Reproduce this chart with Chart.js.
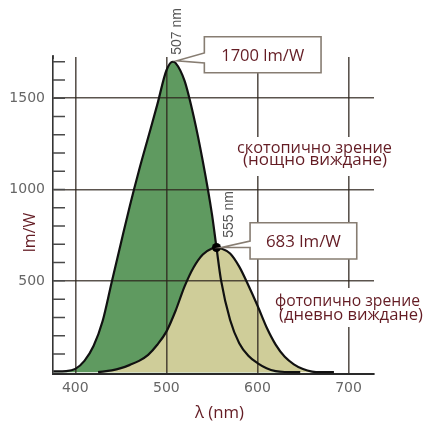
<!DOCTYPE html>
<html><head><meta charset="utf-8">
<script src="https://cdn.jsdelivr.net/npm/chart.js@4/dist/chart.umd.min.js"></script>
<style>html,body{margin:0;padding:0;background:#fff;}#wrap{width:425px;height:421px;position:relative;}</style>
</head><body><div id="wrap"><canvas id="c" width="425" height="421"></canvas></div>
<script>
// ---- data ----
const scotopicNm  = [376,390,400,410,420,430,440,450,460,470,480,490,500,507,510,520,530,540,550,555,560,570,580,590,600,610,620,630,647];
const scotopicVal = [4,6,18,62,143,280,494,705,913,1106,1285,1465,1652,1700,1694,1595,1400,1155,867,683,504,286,159,90,50,22,6,1,0];
const photopicNm  = [425,440,450,460,470,480,490,500,510,520,530,540,550,555,560,570,580,590,600,610,620,630,640,650,660,670,684];
const photopicVal = [0,10,22,40,62,95,150,222,335,470,575,645,677,683,678,650,578,476,365,246,151,84,43,17,3,0,0];
const scotPeak = [507, 1700];
const photPeak = [555, 683];
const xTicks = [400, 500, 600, 700];
const yTicks = [500, 1000, 1500];
const yMinor = [100,200,300,400,500,600,700,800,900,1000,1100,1200,1300,1400,1500,1600,1700];
const scotPeakLabel = '507 nm';
const photPeakLabel = '555 nm';
const scotBoxLabel = '1700 lm/W';
const photBoxLabel = '683 lm/W';
const scotText = ['скотопично зрение', '(нощно виждане)'];
const photText = ['фотопично зрение', '(дневно виждане)'];
const yTitle = 'lm/W';
const xTitle = 'λ (nm)';

const toXY = (xs, ys) => xs.map((x, i) => ({x, y: ys[i]}));
const MAROON = '#641c24';
const LBL_FONT = '"Open Sans", "Noto Sans", sans-serif';

function fitText(ctx, str, cx, by, targetW, font, color) {
  ctx.save();
  ctx.font = font; ctx.fillStyle = color;
  const w = ctx.measureText(str).width;
  ctx.translate(cx, by);
  ctx.scale(targetW / w, 1);
  ctx.textAlign = 'center'; ctx.textBaseline = 'alphabetic';
  ctx.fillText(str, 0, 0);
  ctx.restore();
}

const annot = {
  id: 'annot',
  afterDraw(chart) {
    const ctx = chart.ctx, xs = chart.scales.x, ys = chart.scales.y, ca = chart.chartArea;
    // minor ticks on the y axis (inward)
    ctx.save();
    ctx.strokeStyle = '#4a4a4a'; ctx.lineWidth = 1.5;
    ctx.beginPath();
    yMinor.forEach(v => {
      const y = ys.getPixelForValue(v);
      ctx.moveTo(ca.left, y); ctx.lineTo(ca.left + 12, y);
    });
    ctx.stroke();
    ctx.strokeStyle = '#333'; ctx.lineWidth = 1.6;
    ctx.beginPath(); ctx.moveTo(ca.left, ca.top - 2); ctx.lineTo(ca.left, ca.top + 2); ctx.stroke();
    ctx.restore();

    // white backgrounds behind region texts
    ctx.save();
    ctx.fillStyle = '#fff';
    ctx.fillRect(234, 137, 162, 39);
    ctx.fillRect(272, 288, 153, 39);
    ctx.restore();

    const f16 = '16px ' + LBL_FONT;
    fitText(ctx, scotText[0], 314.5, 152.5, 155, f16, MAROON);
    fitText(ctx, scotText[1], 315, 165, 144, f16, MAROON);
    fitText(ctx, photText[0], 347.5, 306, 145, f16, MAROON);
    fitText(ctx, photText[1], 351, 319.5, 144, f16, MAROON);

    function callout(tx, ty, left, top, right, bottom, j1, j2, label, tw) {
      ctx.save();
      ctx.beginPath();
      ctx.moveTo(left, top); ctx.lineTo(right, top); ctx.lineTo(right, bottom);
      ctx.lineTo(left, bottom); ctx.lineTo(left, j2); ctx.lineTo(tx, ty); ctx.lineTo(left, j1);
      ctx.closePath();
      ctx.fillStyle = '#fff'; ctx.fill();
      ctx.strokeStyle = '#877d72'; ctx.lineWidth = 1.6; ctx.stroke();
      ctx.restore();
      fitText(ctx, label, (left + right) / 2, (top + bottom) / 2 + 6, tw, f16, MAROON);
    }
    const sx = xs.getPixelForValue(scotPeak[0]), sy = ys.getPixelForValue(scotPeak[1]);
    const px = xs.getPixelForValue(photPeak[0]), py = ys.getPixelForValue(photPeak[1]);
    callout(sx + 4, sy - 1, sx + 31.6, 36.7, sx + 148.3, 72.7, 53, 63, scotBoxLabel, 83);
    callout(px + 5, py, px + 33.6, 222.7, px + 140.3, 259, 241, 247.5, photBoxLabel, 75);

    function vlabel(str, x, y) {
      ctx.save();
      ctx.font = '14px "Liberation Sans", Arial, sans-serif';
      ctx.fillStyle = '#555';
      ctx.textAlign = 'center'; ctx.textBaseline = 'alphabetic';
      ctx.translate(x, y); ctx.rotate(-Math.PI / 2);
      ctx.fillText(str, 0, 0);
      ctx.restore();
    }
    vlabel(scotPeakLabel, sx + 8.6, 31.5);
    vlabel(photPeakLabel, px + 16.6, 214.5);

    ctx.save();
    ctx.font = f16; ctx.fillStyle = MAROON;
    ctx.translate(35, 232.5); ctx.rotate(-Math.PI / 2);
    ctx.textAlign = 'center'; ctx.textBaseline = 'alphabetic';
    ctx.fillText(yTitle, 0, 0);
    ctx.restore();
    fitText(ctx, xTitle, 219.5, 418, 49, f16, MAROON);
  }
};

new Chart(document.getElementById('c'), {
  type: 'line',
  data: {
    datasets: [
      { label: 'dot', data: [{x: photPeak[0], y: photPeak[1]}], showLine: false,
        pointRadius: 4.5, pointBackgroundColor: '#000', pointBorderWidth: 0 },
      { label: 'photopic', data: toXY(photopicNm, photopicVal), borderColor: '#111', borderWidth: 2.2,
        backgroundColor: '#cfcd99', fill: 'origin', pointRadius: 0, cubicInterpolationMode: 'monotone' },
      { label: 'scotopic', data: toXY(scotopicNm, scotopicVal), borderColor: '#111', borderWidth: 2.2,
        backgroundColor: '#5f9a60', fill: 'origin', pointRadius: 0, cubicInterpolationMode: 'monotone' }
    ]
  },
  options: {
    responsive: false, animation: false, devicePixelRatio: 1,
    layout: { padding: { top: 57, right: 51, left: 0, bottom: 0 } },
    plugins: { legend: { display: false }, tooltip: { enabled: false }, filler: { drawTime: 'beforeDraw' } },
    scales: {
      x: {
        type: 'linear', min: 375.5, max: 728,
        afterBuildTicks: s => { s.ticks = xTicks.map(v => ({value: v})); },
        afterFit: s => { s.height = 47; },
        grid: { color: 'rgba(45,36,28,0.78)', lineWidth: 1.6, drawTicks: false },
        border: { display: true, color: '#2a2a2a', width: 2 },
        ticks: { color: '#666', font: { family: '"DejaVu Sans"', size: 14 }, padding: 6, maxRotation: 0,
                 callback: v => String(v) }
      },
      y: {
        type: 'linear', min: -10, max: 1726,
        afterBuildTicks: s => { s.ticks = yTicks.map(v => ({value: v})); },
        afterFit: s => { s.width = 53; },
        grid: { color: 'rgba(45,36,28,0.78)', lineWidth: 1.6, drawTicks: false },
        border: { display: true, color: '#333', width: 1.6 },
        ticks: { color: '#666', font: { family: '"DejaVu Sans"', size: 14 }, padding: 8,
                 callback: v => String(v) }
      }
    }
  },
  plugins: [annot]
});
</script>
</body></html>
